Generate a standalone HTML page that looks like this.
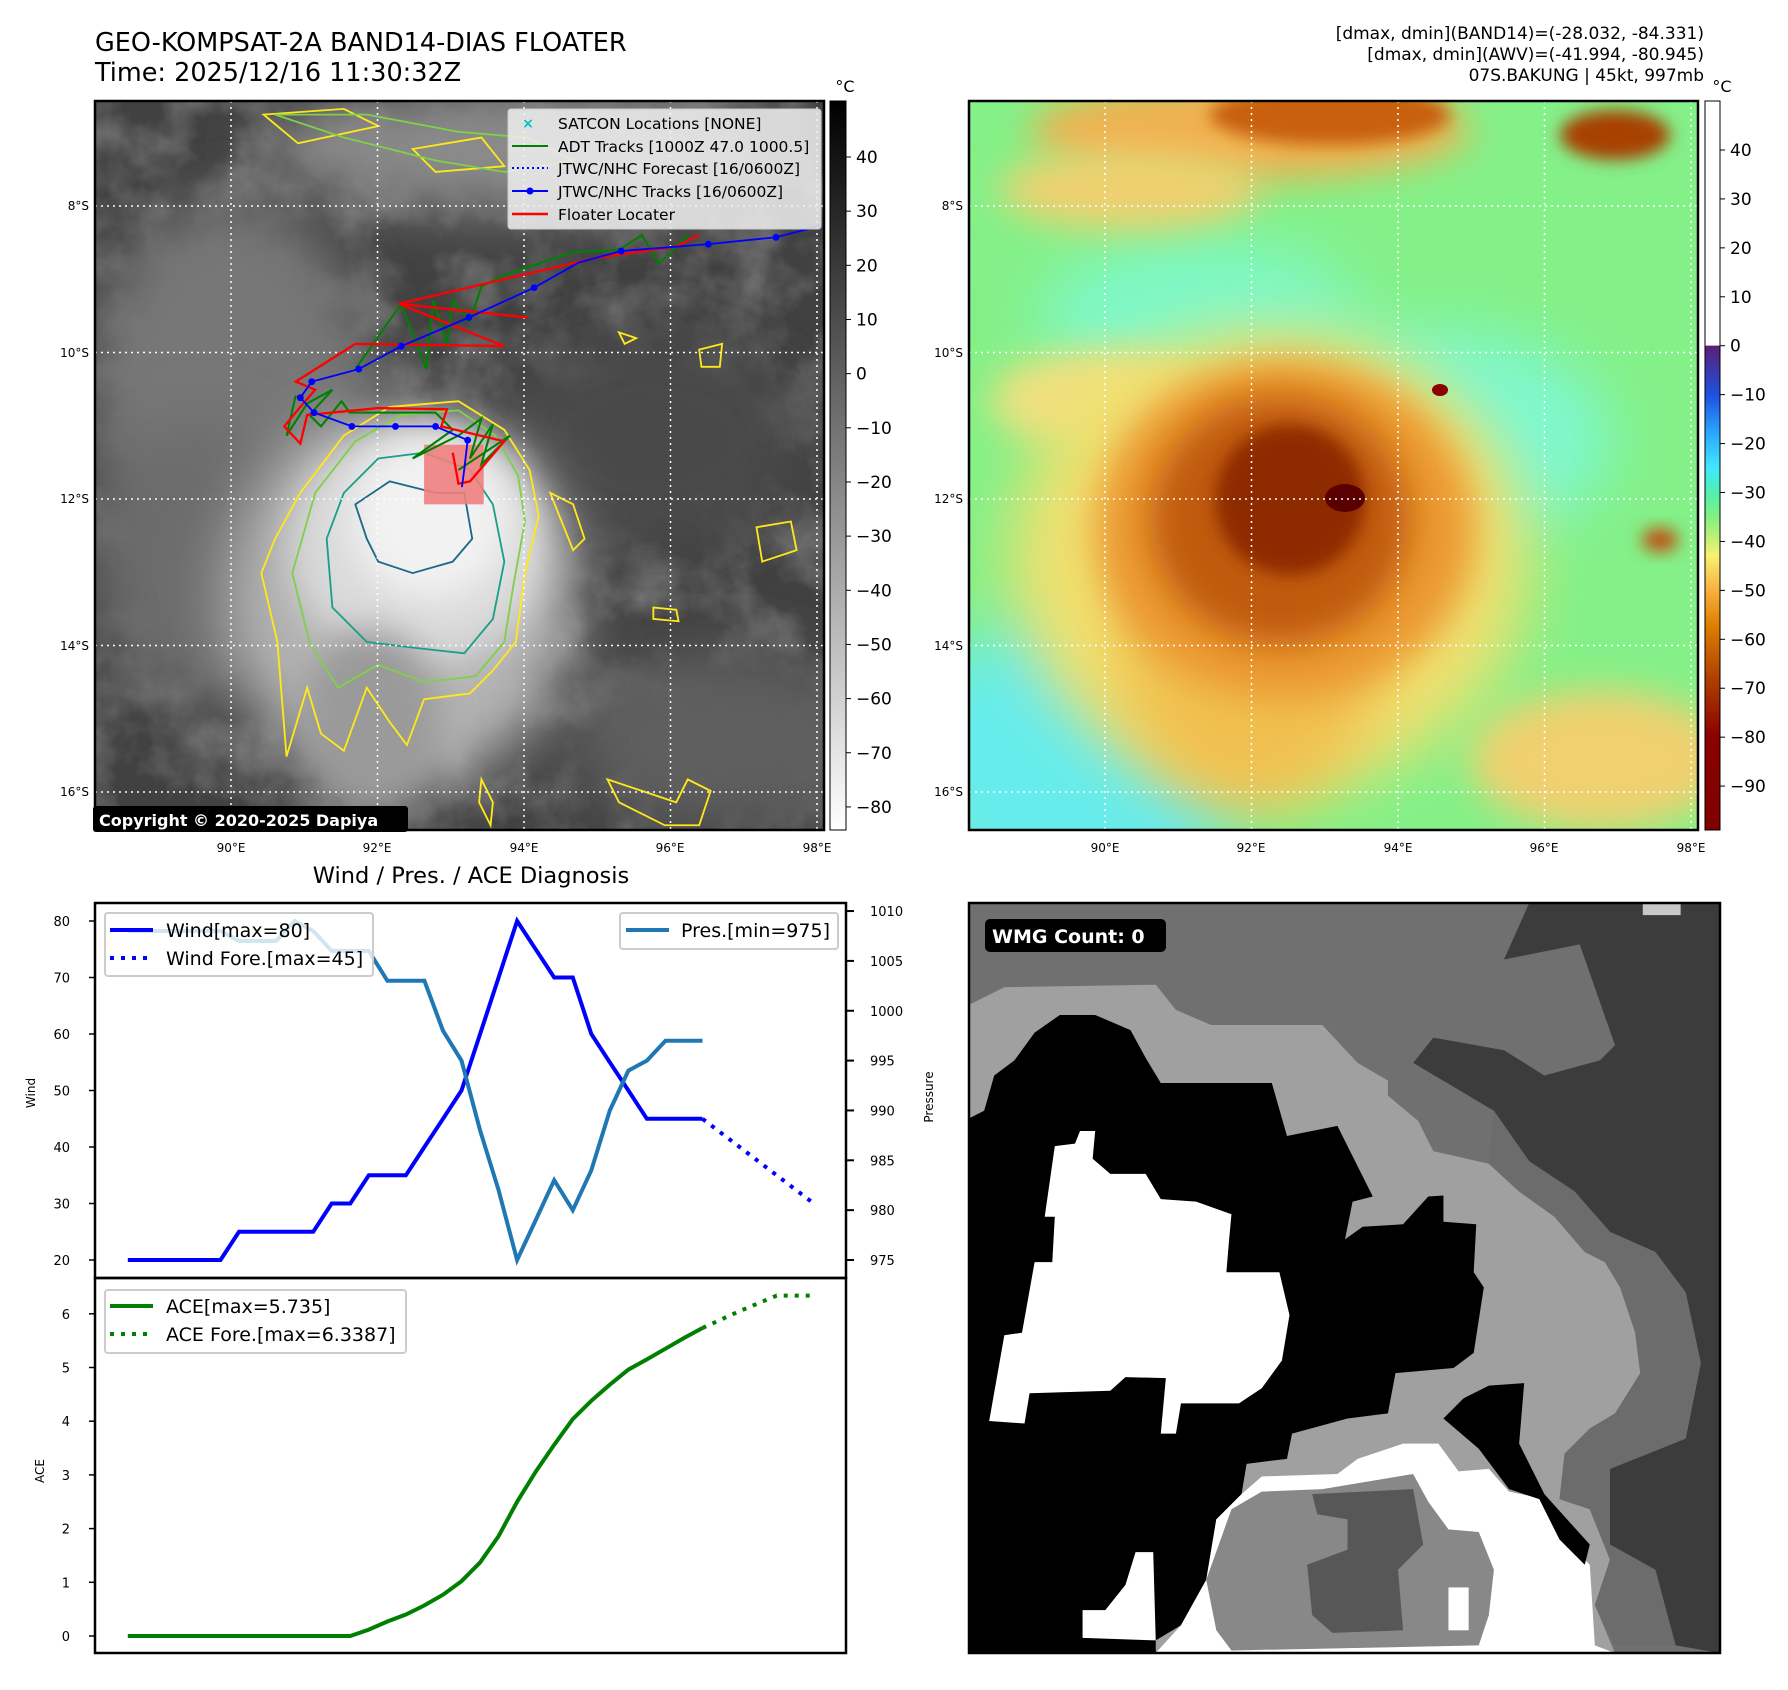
<!DOCTYPE html>
<html><head><meta charset="utf-8">
<style>
html,body{margin:0;padding:0;background:#fff;}
body{width:1788px;height:1690px;position:relative;overflow:hidden;font-family:"DejaVu Sans","Liberation Sans",sans-serif;}
svg{position:absolute;left:0;top:0;}
</style></head>
<body>
<svg id="fig" width="1788" height="1690" viewBox="0 0 1788 1690" xmlns="http://www.w3.org/2000/svg" font-family="DejaVu Sans, Liberation Sans, sans-serif">
<defs>
  <clipPath id="clipL"><rect x="95" y="101" width="729" height="729"/></clipPath>
  <clipPath id="clipR"><rect x="969" y="101" width="729" height="729"/></clipPath>
  <clipPath id="clipW"><rect x="969" y="903" width="751" height="750"/></clipPath>
  <filter id="b8" x="-50%" y="-50%" width="200%" height="200%"><feGaussianBlur stdDeviation="8"/></filter>
  <filter id="b18" x="-50%" y="-50%" width="200%" height="200%"><feGaussianBlur stdDeviation="18"/></filter>
  <filter id="b30" x="-50%" y="-50%" width="200%" height="200%"><feGaussianBlur stdDeviation="30"/></filter>
  <filter id="tex" x="0" y="0" width="100%" height="100%">
    <feTurbulence type="fractalNoise" baseFrequency="0.018" numOctaves="4" seed="3"/>
    <feColorMatrix type="matrix" values="0 0 0 0 1  0 0 0 0 1  0 0 0 0 1  1.2 0 0 0 -0.45"/>
  </filter>
  <linearGradient id="cbGray" x1="0" y1="0" x2="0" y2="1">
    <stop offset="0" stop-color="#000"/><stop offset="1" stop-color="#fff"/>
  </linearGradient>
  <linearGradient id="cbRain" x1="0" y1="0" x2="0" y2="1">
    <stop offset="0" stop-color="#fff"/><stop offset="0.335" stop-color="#fff"/>
    <stop offset="0.336" stop-color="#5b1f76"/>
    <stop offset="0.403" stop-color="#1e50e0"/>
    <stop offset="0.456" stop-color="#2aa8ff"/>
    <stop offset="0.503" stop-color="#40e8ff"/>
    <stop offset="0.537" stop-color="#50f0b0"/>
    <stop offset="0.57" stop-color="#80f080"/>
    <stop offset="0.624" stop-color="#f8f070"/>
    <stop offset="0.671" stop-color="#f8b040"/>
    <stop offset="0.718" stop-color="#e08000"/>
    <stop offset="0.792" stop-color="#b04000"/>
    <stop offset="0.872" stop-color="#8b0000"/>
    <stop offset="1" stop-color="#800000"/>
  </linearGradient>
</defs>

<!-- titles -->
<text x="95" y="51" font-size="25.5">GEO-KOMPSAT-2A BAND14-DIAS FLOATER</text>
<text x="95" y="81" font-size="25.5">Time: 2025/12/16 11:30:32Z</text>
<g font-size="17" text-anchor="end">
  <text x="1704" y="39">[dmax, dmin](BAND14)=(-28.032, -84.331)</text>
  <text x="1704" y="60">[dmax, dmin](AWV)=(-41.994, -80.945)</text>
  <text x="1704" y="81">07S.BAKUNG | 45kt, 997mb</text>
</g>

<!-- LEFT MAP -->
<g clip-path="url(#clipL)">
  <rect x="95" y="101" width="729" height="729" fill="#414141"/>
  <rect x="95" y="101" width="729" height="729" filter="url(#tex)" opacity="0.45"/>
  <ellipse cx="520" cy="150" rx="260" ry="60" fill="#8c8c8c" filter="url(#b30)"/>
  <ellipse cx="230" cy="380" rx="140" ry="180" fill="#777" filter="url(#b30)"/>
  <ellipse cx="200" cy="560" rx="110" ry="140" fill="#6c6c6c" filter="url(#b30)"/>
  <ellipse cx="650" cy="440" rx="150" ry="110" fill="#4a4a4a" filter="url(#b30)"/>
  <ellipse cx="720" cy="740" rx="150" ry="90" fill="#5e5e5e" filter="url(#b30)"/>
  <ellipse cx="400" cy="600" rx="175" ry="190" fill="#b4b4b4" filter="url(#b30)"/>
  <ellipse cx="420" cy="545" rx="130" ry="120" fill="#dadada" filter="url(#b18)"/>
  <ellipse cx="430" cy="520" rx="80" ry="80" fill="#f2f2f2" filter="url(#b18)"/>
  <ellipse cx="370" cy="720" rx="70" ry="90" fill="#9a9a9a" filter="url(#b18)"/>
  <g transform="scale(1.1462,1.1462)" fill="none" stroke-width="1.6">
    <path stroke="#ffe81a" d="M262,430 L300,380 L340,355 L400,350 L440,375 L462,410 L470,450 L458,500 L450,560 L430,585 L410,605 L370,610 L355,650 L340,630 L320,600 L300,655 L280,640 L268,600 L250,660 L242,560 L228,500 L240,470 Z"/>
    <path stroke="#7fd04a" d="M275,430 L310,385 L350,362 L400,358 L432,380 L452,415 L458,455 L448,510 L440,560 L415,590 L370,595 L330,580 L295,600 L270,560 L255,500 Z"/>
    <path stroke="#1aa088" d="M300,430 L330,400 L370,395 L410,410 L430,440 L440,490 L430,540 L405,570 L360,565 L320,560 L290,530 L285,470 Z"/>
    <path stroke="#1a6a88" d="M310,440 L340,420 L380,430 L405,430 L412,470 L395,490 L360,500 L330,490 L320,470 Z"/>
    <path stroke="#ffe81a" d="M480,430 L500,440 L510,470 L500,480 Z M660,460 L690,455 L695,480 L665,490 Z M540,290 L555,295 L545,300 Z M610,305 L630,300 L628,320 L612,320 Z M570,530 L590,532 L592,542 L570,540 Z M420,680 L430,700 L428,720 L418,700 Z M530,680 L560,690 L590,700 L600,680 L620,690 L610,720 L580,720 L540,700 Z M230,100 L300,95 L330,110 L260,125 Z M360,130 L420,120 L440,145 L380,150 Z"/>
    <path stroke="#7fd04a" d="M240,100 L320,100 L400,115 L460,120 L500,140 L440,150 L380,140 L300,120 Z"/>
  </g>
</g>
<g stroke="#fff" stroke-width="1.5" stroke-dasharray="2,4" clip-path="url(#clipL)">
  <line x1="231" y1="101" x2="231" y2="830"/><line x1="377.5" y1="101" x2="377.5" y2="830"/><line x1="524" y1="101" x2="524" y2="830"/><line x1="670.5" y1="101" x2="670.5" y2="830"/><line x1="817" y1="101" x2="817" y2="830"/>
  <line x1="95" y1="206" x2="824" y2="206"/><line x1="95" y1="352.5" x2="824" y2="352.5"/><line x1="95" y1="499" x2="824" y2="499"/><line x1="95" y1="645.5" x2="824" y2="645.5"/><line x1="95" y1="792" x2="824" y2="792"/>
</g>
<g clip-path="url(#clipL)" transform="scale(1.1462,1.1462)" fill="none">
  <rect x="370" y="388" width="52" height="52" fill="#f08080" fill-opacity="0.9" stroke="none"/>
  <polyline stroke="#008000" stroke-width="1.8" points="310,322 350,265 372,322 378,262 390,300 395,262 410,280 420,250 440,240 470,230 500,220 540,218 560,205 575,230 590,215 600,205"/>
  <polyline stroke="#008000" stroke-width="1.8" points="258,345 250,380 268,352 290,340 270,362 280,372 298,350 305,360 340,360 380,360 395,375 360,400 400,380 420,365 410,400 430,370 420,405 445,380 400,410"/>
  <polyline stroke="#ff0000" stroke-width="2" points="610,205 590,215 520,225 348,265 460,277 348,265 440,302 310,300 258,333 275,340 262,355 248,372 262,387 268,362 330,356 390,357 385,372 440,385 410,420 400,422 395,395"/>
  <polyline stroke="#0000ff" stroke-width="1.6" points="716,197 677,207 618,213 542,219 505,229 466,251 409,277 350,302 313,322 272,333 262,347 274,360 307,372 345,372 380,372 408,384 405,410 403,425"/>
  <g fill="#0000ff">
    <circle cx="677" cy="207" r="3"/><circle cx="618" cy="213" r="3"/><circle cx="542" cy="219" r="3"/><circle cx="466" cy="251" r="3"/><circle cx="409" cy="277" r="3"/><circle cx="350" cy="302" r="3"/><circle cx="313" cy="322" r="3"/><circle cx="272" cy="333" r="3"/><circle cx="262" cy="347" r="3"/><circle cx="274" cy="360" r="3"/><circle cx="307" cy="372" r="3"/><circle cx="345" cy="372" r="3"/><circle cx="380" cy="372" r="3"/><circle cx="408" cy="384" r="3"/>
  </g>
</g>
<rect x="95" y="101" width="729" height="729" fill="none" stroke="#000" stroke-width="2.5"/>
<g font-size="15.5">
  <rect x="508" y="109" width="313" height="120" fill="#f0f0f0" fill-opacity="0.85" stroke="#ccc" rx="3"/>
  <text x="528" y="128" fill="#00c0c0" font-size="14" text-anchor="middle" font-weight="bold">×</text>
  <text x="558" y="129">SATCON Locations [NONE]</text>
  <line x1="512" y1="146" x2="548" y2="146" stroke="#008000" stroke-width="2"/>
  <text x="558" y="152">ADT Tracks [1000Z 47.0 1000.5]</text>
  <line x1="512" y1="168" x2="548" y2="168" stroke="#0000ff" stroke-width="2" stroke-dasharray="2,3"/>
  <text x="558" y="174">JTWC/NHC Forecast [16/0600Z]</text>
  <line x1="512" y1="191" x2="548" y2="191" stroke="#0000ff" stroke-width="2"/><circle cx="530" cy="191" r="3.5" fill="#0000ff"/>
  <text x="558" y="197">JTWC/NHC Tracks [16/0600Z]</text>
  <line x1="512" y1="214" x2="548" y2="214" stroke="#ff0000" stroke-width="2.5"/>
  <text x="558" y="220">Floater Locater</text>
</g>
<g>
  <rect x="93" y="806" width="315" height="26" fill="#000" rx="3"/>
  <text x="99" y="826" fill="#fff" font-size="16" font-weight="bold">Copyright © 2020-2025 Dapiya</text>
</g>
<g font-size="12">
  <g text-anchor="end"><text x="89" y="210">8°S</text><text x="89" y="357">10°S</text><text x="89" y="503">12°S</text><text x="89" y="650">14°S</text><text x="89" y="796">16°S</text></g>
  <g text-anchor="middle"><text x="231" y="852">90°E</text><text x="377" y="852">92°E</text><text x="524" y="852">94°E</text><text x="670" y="852">96°E</text><text x="817" y="852">98°E</text></g>
</g>
<g>
  <rect x="830" y="101" width="16" height="729" fill="url(#cbGray)" stroke="#000" stroke-width="1"/>
  <text x="845" y="92" font-size="16" text-anchor="middle">°C</text>
  <g id="cbLticks" font-size="17"></g>
</g>

<!-- RIGHT MAP -->
<g clip-path="url(#clipR)">
  <rect x="969" y="101" width="729" height="729" fill="#84f088"/>
  <ellipse cx="1080" cy="760" rx="170" ry="150" fill="#66ecec" filter="url(#b30)"/>
  <ellipse cx="1430" cy="440" rx="180" ry="110" fill="#7ef8d0" filter="url(#b30)"/>
  <ellipse cx="1200" cy="320" rx="160" ry="80" fill="#7ef8c8" filter="url(#b30)"/>
  <ellipse cx="1250" cy="130" rx="220" ry="50" fill="#f0b050" filter="url(#b18)"/>
  <ellipse cx="1330" cy="115" rx="120" ry="30" fill="#c86010" filter="url(#b8)"/>
  <ellipse cx="1615" cy="135" rx="55" ry="25" fill="#a84000" filter="url(#b8)"/>
  <ellipse cx="1130" cy="190" rx="130" ry="40" fill="#f0d070" filter="url(#b18)"/>
  <ellipse cx="1600" cy="760" rx="130" ry="70" fill="#f0d070" filter="url(#b18)"/>
  <ellipse cx="1100" cy="400" rx="110" ry="50" fill="#f0e080" filter="url(#b18)"/>
  <ellipse cx="1270" cy="560" rx="260" ry="230" fill="#f0e070" filter="url(#b30)"/>
  <ellipse cx="1250" cy="650" rx="130" ry="160" fill="#f0c050" filter="url(#b30)"/>
  <ellipse cx="1285" cy="530" rx="190" ry="170" fill="#ec9a30" filter="url(#b18)"/>
  <ellipse cx="1280" cy="520" rx="130" ry="125" fill="#c05a10" filter="url(#b18)"/>
  <ellipse cx="1290" cy="500" rx="75" ry="75" fill="#8e2a00" filter="url(#b8)"/>
  <ellipse cx="1345" cy="498" rx="20" ry="14" fill="#5a0000"/>
  <ellipse cx="1660" cy="540" rx="18" ry="12" fill="#c05010" filter="url(#b8)" />
  <ellipse cx="1440" cy="390" rx="8" ry="6" fill="#8b0000"/>
</g>
<g stroke="#fff" stroke-width="1.5" stroke-dasharray="2,4" clip-path="url(#clipR)">
  <line x1="1105" y1="101" x2="1105" y2="830"/><line x1="1251.5" y1="101" x2="1251.5" y2="830"/><line x1="1398" y1="101" x2="1398" y2="830"/><line x1="1544.5" y1="101" x2="1544.5" y2="830"/><line x1="1691" y1="101" x2="1691" y2="830"/>
  <line x1="969" y1="206" x2="1698" y2="206"/><line x1="969" y1="352.5" x2="1698" y2="352.5"/><line x1="969" y1="499" x2="1698" y2="499"/><line x1="969" y1="645.5" x2="1698" y2="645.5"/><line x1="969" y1="792" x2="1698" y2="792"/>
</g>
<rect x="969" y="101" width="729" height="729" fill="none" stroke="#000" stroke-width="2.5"/>
<g font-size="12">
  <g text-anchor="end"><text x="963" y="210">8°S</text><text x="963" y="357">10°S</text><text x="963" y="503">12°S</text><text x="963" y="650">14°S</text><text x="963" y="796">16°S</text></g>
  <g text-anchor="middle"><text x="1105" y="852">90°E</text><text x="1251" y="852">92°E</text><text x="1398" y="852">94°E</text><text x="1544" y="852">96°E</text><text x="1691" y="852">98°E</text></g>
</g>
<g>
  <rect x="1705" y="101" width="15" height="729" fill="url(#cbRain)" stroke="#000" stroke-width="1"/>
  <text x="1722" y="92" font-size="16" text-anchor="middle">°C</text>
  <g id="cbRticks" font-size="17"></g>
</g>

<!-- WMG PANEL -->
<g clip-path="url(#clipW)">
  <svg x="969" y="903" width="751" height="750" viewBox="20 28 1488 1487" preserveAspectRatio="none">
    <rect x="0" y="0" width="1600" height="1600" fill="#707070"/>
    <polygon fill="#a0a0a0" points="20,230 90,195 390,190 430,240 500,270 720,270 790,345 850,380 850,410 910,460 940,520 1050,545 1110,600 1180,650 1240,720 1280,740 1310,790 1340,880 1350,960 1300,1040 1250,1070 1200,1120 1190,1210 1250,1230 1290,1330 1260,1420 1300,1515 20,1515"/>
    <polygon fill="#3c3c3c" points="1130,28 1508,28 1508,1515 1420,1500 1380,1350 1290,1300 1290,1150 1440,1090 1470,940 1440,800 1380,720 1290,680 1220,600 1130,540 1060,440 900,345 940,295 1080,320 1160,370 1270,340 1300,310 1230,110 1080,140"/>
    <polygon fill="#6c6c6c" points="1130,540 1220,600 1290,680 1380,720 1440,800 1470,940 1440,1090 1290,1150 1290,1300 1380,1350 1420,1500 1300,1500 1260,1420 1290,1330 1250,1230 1190,1210 1200,1120 1250,1070 1300,1040 1350,960 1340,880 1310,790 1280,740 1240,720 1180,650 1110,600 1050,545 1060,440"/>
    <polygon fill="#000" points="20,455 50,440 70,370 110,340 150,285 200,250 270,250 340,280 370,335 400,385 620,385 650,490 750,470 790,550 820,610 780,620 765,695 800,670 880,665 930,610 960,608 960,660 1025,665 1020,760 1040,790 1020,920 980,950 865,960 850,1040 770,1050 660,1080 650,1130 570,1140 560,1200 510,1250 490,1370 440,1460 390,1490 390,1515 20,1515"/>
    <polygon fill="#fff" points="60,1055 90,885 125,880 150,740 185,740 190,650 170,650 190,510 230,505 240,480 270,480 265,535 300,565 370,565 400,615 470,620 540,645 535,700 530,760 635,760 655,845 640,935 600,990 555,1020 440,1020 430,1080 400,1080 410,970 330,968 300,995 140,1000 130,1060"/>
    <polygon fill="#fff" points="560,1200 600,1165 750,1160 790,1130 880,1100 950,1100 990,1155 1050,1150 1090,1195 1160,1210 1200,1290 1250,1340 1260,1500 1300,1515 390,1515 440,1460 490,1370 510,1250"/>
    <polygon fill="#000" points="1050,985 1120,980 1110,1100 1160,1200 1250,1300 1240,1340 1190,1290 1150,1210 1090,1190 1030,1110 960,1050 1000,1010"/>
    <polygon fill="#888" points="490,1370 540,1230 600,1195 720,1190 900,1160 930,1215 970,1270 1030,1275 1060,1350 1050,1440 1030,1500 540,1510 510,1470"/>
    <polygon fill="#575757" points="700,1200 900,1190 920,1300 870,1350 880,1470 740,1475 700,1440 690,1340 770,1310 770,1250 710,1240"/>
    <rect x="970" y="1385" width="40" height="85" fill="#fff"/>
    <polygon fill="#fff" points="245,1430 290,1430 330,1380 350,1315 385,1315 390,1490 245,1485"/>
    <rect x="1355" y="30" width="75" height="22" fill="#c8c8c8"/>
  </svg>
</g>
<rect x="969" y="903" width="751" height="750" fill="none" stroke="#000" stroke-width="2.5"/>
<g>
  <rect x="985" y="919" width="181" height="33" rx="5" fill="#000"/>
  <text x="992" y="943" fill="#fff" font-size="19" font-weight="bold">WMG Count: 0</text>
</g>

<!-- WIND / PRES / ACE -->
<text x="471" y="883" font-size="22.5" text-anchor="middle">Wind / Pres. / ACE Diagnosis</text>
<g id="windChart"></g>
<g id="aceChart"></g>
</svg>

<script>
// ---- data ----
const windIdx = [0,1,2,3,4,5,6,7,8,9,10,11,12,13,14,15,16,17,18,19,20,21,22,23,24,25,26,27,28,29,30,31];
const windVals = [20,20,20,20,20,20,25,25,25,25,25,30,30,35,35,35,40,45,50,60,70,80,75,70,70,60,55,50,45,45,45,45];
const windForeIdx = [31,33,35,37];
const windForeVals = [45,40,35,30];
const presVals = [1008,1008,1008,1008,1008,1008,1007,1007,1007,1009,1008,1006,1006,1006,1003,1003,1003,998,995,988,982,975,979,983,980,984,990,994,995,997,997,997];
const aceVals = [0,0,0,0,0,0,0,0,0,0,0,0,0,0.12,0.27,0.4,0.57,0.77,1.02,1.37,1.86,2.5,3.06,3.56,4.04,4.38,4.68,4.96,5.15,5.35,5.55,5.735];
const aceForeIdx = [31,33,35,37];
const aceForeVals = [5.735,6.05,6.3387,6.3387];
const windTicks = [20,30,40,50,60,70,80];
const presTicks = [975,980,985,990,995,1000,1005,1010];
const aceTicks = [0,1,2,3,4,5,6];
const cbLTicks = [40,30,20,10,0,-10,-20,-30,-40,-50,-60,-70,-80];
const cbRTicks = [40,30,20,10,0,-10,-20,-30,-40,-50,-60,-70,-80,-90];

const NS = 'http://www.w3.org/2000/svg';
function mk(tag, attrs, parent){
  const e = document.createElementNS(NS, tag);
  for (const k in attrs) e.setAttribute(k, attrs[k]);
  parent.appendChild(e);
  return e;
}
// axis functions
const xIdx = i => 127.8 + i * 18.54;
const yWind = v => 1260 - (v - 20) * 5.65;
const yPres = v => 1260 - (v - 975) * 9.97;
const yAce = v => 1636 - v * 53.7;
const yCbL = v => 157 - (v - 40) * 5.416;
const yCbR = v => 150 - (v - 40) * 4.893;

function pts(idx, vals, fy){ return idx.map((i,k)=> xIdx(i).toFixed(1)+','+fy(vals[k]).toFixed(1)).join(' '); }

// colorbar ticks
const gL = document.getElementById('cbLticks');
cbLTicks.forEach(v=>{
  const y = yCbL(v);
  const t = mk('line',{x1:846,y1:y,x2:851,y2:y,stroke:'#000','stroke-width':1},gL);
  
  
  const l = mk('text',{x:856,y:y+6},gL);
  
  
  l.textContent = v < 0 ? '\u2212'+Math.abs(v) : String(v);
});
const gR = document.getElementById('cbRticks');
cbRTicks.forEach(v=>{
  const y = yCbR(v);
  const t = mk('line',{x1:1720,y1:y,x2:1725,y2:y,stroke:'#000','stroke-width':1},gR);
  
  
  const l = mk('text',{x:1730,y:y+6},gR);
  
  
  l.textContent = v < 0 ? '\u2212'+Math.abs(v) : String(v);
});

// wind/pressure chart
const wc = document.getElementById('windChart');
windTicks.forEach(v=>{
  const y = yWind(v);
  mk('line',{x1:89,y1:y,x2:95,y2:y,stroke:'#000','stroke-width':1.5},wc);
  const l = mk('text',{x:70,y:y+5,'font-size':13,'text-anchor':'end'},wc);
  
  
  l.textContent = v;
});
presTicks.forEach(v=>{
  const y = yPres(v);
  mk('line',{x1:846,y1:y,x2:854,y2:y,stroke:'#000','stroke-width':2},wc);
  const l = mk('text',{x:870,y:y+5,'font-size':13},wc);
  
  
  l.textContent = v;
});
const yl = mk('text',{x:0,y:0,'font-size':12,'text-anchor':'middle',transform:'translate(35,1093) rotate(-90)'},wc);


yl.textContent='Wind';
const pl = mk('text',{x:0,y:0,'font-size':12,'text-anchor':'middle',transform:'translate(933,1097) rotate(-90)'},wc);


pl.textContent='Pressure';

const wl = mk('polyline',{points:pts(windIdx,windVals,yWind),fill:'none',stroke:'#0000ff','stroke-width':4},wc);


const wf = mk('polyline',{points:pts(windForeIdx,windForeVals,yWind),fill:'none',stroke:'#0000ff','stroke-width':4,'stroke-dasharray':'4,7'},wc);


const pr = mk('polyline',{points:pts(windIdx,presVals,yPres),fill:'none',stroke:'#1f77b4','stroke-width':4},wc);



// legends
const lg1 = mk('g',{},wc);


mk('rect',{x:105,y:913,width:268,height:63,rx:3,fill:'#fff','fill-opacity':0.8,stroke:'#ccc','stroke-width':2},lg1);
mk('line',{x1:110,y1:930,x2:153,y2:930,stroke:'#0000ff','stroke-width':4},lg1);
mk('text',{x:166,y:937,'font-size':19},lg1).textContent='Wind[max=80]';
mk('line',{x1:110,y1:958,x2:153,y2:958,stroke:'#0000ff','stroke-width':4,'stroke-dasharray':'4,7'},lg1);
mk('text',{x:166,y:965,'font-size':19},lg1).textContent='Wind Fore.[max=45]';
const lg2 = mk('g',{},wc);


mk('rect',{x:620,y:913,width:218,height:36,rx:3,fill:'#fff','fill-opacity':0.8,stroke:'#ccc','stroke-width':2},lg2);
mk('line',{x1:626,y1:930,x2:669,y2:930,stroke:'#1f77b4','stroke-width':4},lg2);
mk('text',{x:681,y:937,'font-size':19},lg2).textContent='Pres.[min=975]';
mk('rect',{x:95,y:903,width:751,height:375,fill:'none',stroke:'#000','stroke-width':2.5},wc);

// ACE chart
const ac = document.getElementById('aceChart');
aceTicks.forEach(v=>{
  const y = yAce(v);
  mk('line',{x1:89,y1:y,x2:95,y2:y,stroke:'#000','stroke-width':1.5},ac);
  const l = mk('text',{x:70,y:y+5,'font-size':13,'text-anchor':'end'},ac);
  
  
  l.textContent = v;
});
const al = mk('text',{x:0,y:0,'font-size':12,'text-anchor':'middle',transform:'translate(44,1471) rotate(-90)'},ac);


al.textContent='ACE';
const aLine = mk('polyline',{points:pts(windIdx,aceVals,yAce),fill:'none',stroke:'#008000','stroke-width':4},ac);


const aFore = mk('polyline',{points:pts(aceForeIdx,aceForeVals,yAce),fill:'none',stroke:'#008000','stroke-width':4,'stroke-dasharray':'4,7'},ac);


const lg3 = mk('g',{},ac);


mk('rect',{x:105,y:1290,width:301,height:63,rx:3,fill:'#fff','fill-opacity':0.8,stroke:'#ccc','stroke-width':2},lg3);
mk('line',{x1:110,y1:1306,x2:153,y2:1306,stroke:'#008000','stroke-width':4},lg3);
mk('text',{x:166,y:1313,'font-size':19},lg3).textContent='ACE[max=5.735]';
mk('line',{x1:110,y1:1334,x2:153,y2:1334,stroke:'#008000','stroke-width':4,'stroke-dasharray':'4,7'},lg3);
mk('text',{x:166,y:1341,'font-size':19},lg3).textContent='ACE Fore.[max=6.3387]';
mk('rect',{x:95,y:1278,width:751,height:375,fill:'none',stroke:'#000','stroke-width':2.5},ac);
</script>
</body></html>
